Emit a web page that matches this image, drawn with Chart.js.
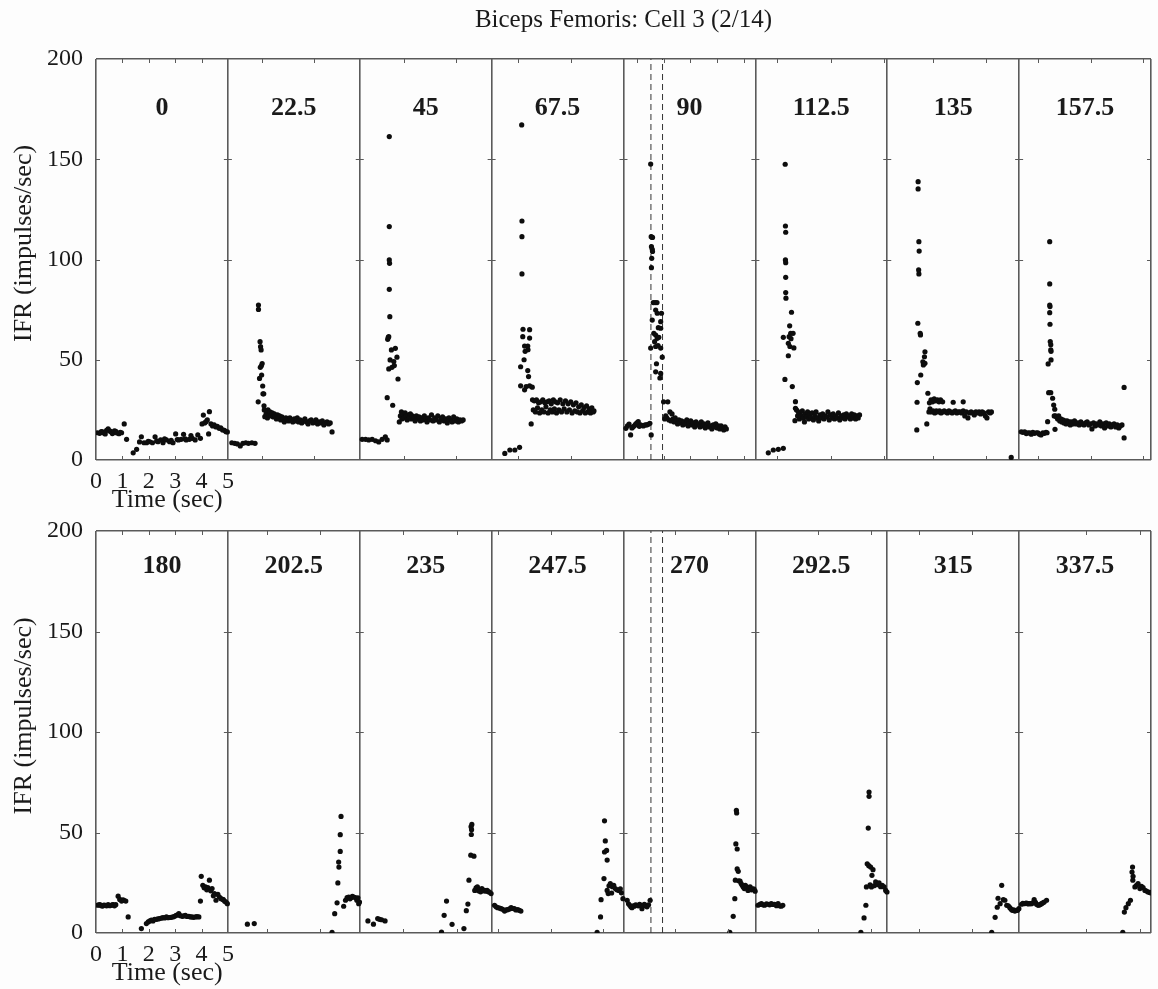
<!DOCTYPE html>
<html>
<head>
<meta charset="utf-8">
<title>Biceps Femoris: Cell 3 (2/14)</title>
<script src="https://cdn.jsdelivr.net/npm/chart.js@4.4.1/dist/chart.umd.min.js"></script>
<style>
  body { margin: 0; background: #fdfdfd; width: 1158px; height: 989px; overflow: hidden; }
  .row { position: absolute; left: 0; width: 1158px; }
</style>
</head>
<body>
<div class="row" style="top:0;height:525px"><canvas id="rowTop"></canvas></div>
<div class="row" style="top:470px;height:519px"><canvas id="rowBottom"></canvas></div>
<script>
// Direction labels for each panel (degrees)
const topAngles = ['0', '22.5', '45', '67.5', '90', '112.5', '135', '157.5'];
const bottomAngles = ['180', '202.5', '235', '247.5', '270', '292.5', '315', '337.5'];

// Axis ticks
const timeTicks = [0, 1, 2, 3, 4, 5];
const rateTicks = [0, 50, 100, 150, 200];

// Stimulus window in the 90 / 270 panels (sec)
const cueTimes = [1.04, 1.48];

// Instantaneous firing rate per panel: [time (sec), IFR (impulses/sec)]
const dir0 = [[0.06,13.6],[0.14,13.3],[0.2,14.2],[0.25,14],[0.3,13.5],[0.35,13],[0.4,14.8],[0.46,15.5],[0.52,14.5],[0.57,14.1],[0.62,13.2],[0.65,13.6],[0.7,14.5],[0.75,14.3],[0.8,13.5],[0.87,13.1],[0.92,13.8],[0.97,13.6],[1.07,18],[1.16,10.3],[1.41,3.6],[1.54,5.3],[1.65,9],[1.72,11.6],[1.82,8.6],[1.92,8.6],[1.98,9.3],[2.04,9.1],[2.14,8.6],[2.24,11.6],[2.3,9.5],[2.35,9.1],[2.45,10],[2.54,8.6],[2.6,10.5],[2.67,10],[2.79,9.1],[2.85,9.8],[2.92,8.6],[3.02,13],[3.08,10.2],[3.13,10],[3.23,10.3],[3.32,12.8],[3.38,10.5],[3.42,10],[3.54,10.3],[3.6,12.2],[3.65,10.8],[3.76,10],[3.86,12.5],[3.96,10.8],[4.02,18],[4.07,22.4],[4.12,18.5],[4.17,19.1],[4.22,20],[4.27,13],[4.3,24.1],[4.36,18],[4.42,17],[4.48,17.5],[4.55,16.5],[4.6,16.8],[4.67,15.8],[4.73,16],[4.8,15],[4.87,14.8],[4.93,14.1],[4.98,14]];
const dir22 = [[0.15,8.6],[0.26,8.3],[0.36,8],[0.47,7],[0.57,8.3],[0.68,8.6],[0.78,8.3],[0.91,8.6],[1.03,8.3],[1.15,29],[1.16,77.3],[1.16,75.1],[1.2,40.7],[1.22,59],[1.23,46.2],[1.24,56.5],[1.26,54.9],[1.27,47],[1.28,42.4],[1.3,48.1],[1.32,36.9],[1.33,33],[1.36,33],[1.37,27],[1.38,25],[1.4,21.6],[1.45,23],[1.5,21],[1.52,25],[1.57,22.5],[1.6,24],[1.63,22],[1.68,23.5],[1.72,21.5],[1.76,23],[1.8,22],[1.84,20.5],[1.88,22.5],[1.92,21],[1.96,22],[2,20],[2.05,21.5],[2.1,20.5],[2.14,19],[2.2,21],[2.25,20],[2.3,19.5],[2.35,21],[2.4,20],[2.46,19],[2.52,20.5],[2.58,19.5],[2.63,21],[2.68,19],[2.74,20],[2.8,18.5],[2.86,19.5],[2.92,20.5],[2.98,19],[3.04,18],[3.1,19.5],[3.16,20],[3.22,18.5],[3.28,19],[3.34,20],[3.4,18],[3.46,19],[3.52,18.5],[3.58,19.5],[3.64,17.5],[3.7,18.5],[3.76,19],[3.82,18],[3.88,18.5],[3.95,14]];
const dir45 = [[0.09,10.3],[0.22,10.3],[0.34,10],[0.47,10.3],[0.6,9.6],[0.72,9],[0.85,10.3],[0.97,11.6],[1.04,10],[1.04,31.1],[1.06,60.2],[1.08,61.2],[1.1,61.5],[1.12,161.3],[1.12,116.4],[1.12,99.8],[1.13,98.1],[1.12,85.1],[1.14,71.5],[1.15,49.9],[1.1,45.4],[1.2,54.9],[1.22,46.2],[1.25,27.3],[1.29,49.1],[1.31,47.1],[1.35,55.7],[1.41,51.3],[1.45,40.4],[1.5,19],[1.54,22],[1.58,24],[1.6,20.5],[1.64,23],[1.68,21],[1.72,23.5],[1.76,22],[1.8,20],[1.84,22.5],[1.88,21],[1.92,23],[1.96,20.5],[2,22],[2.05,21],[2.1,19.5],[2.15,22],[2.2,20.5],[2.25,21.5],[2.3,19.5],[2.35,21],[2.4,20],[2.45,22],[2.5,20.5],[2.55,19],[2.6,21],[2.66,20],[2.72,22.5],[2.78,19.5],[2.84,21],[2.9,20],[2.96,22],[3.02,19],[3.08,20.5],[3.14,21.5],[3.2,19.5],[3.26,20.5],[3.32,18.5],[3.38,21],[3.44,20],[3.5,19],[3.56,21.5],[3.62,19.5],[3.68,20.5],[3.74,19],[3.8,20],[3.86,19.5],[3.92,20]];
const dir67 = [[0.5,3.3],[0.69,5],[0.88,5],[1.06,6.3],[1.1,46.5],[1.1,37],[1.14,167.1],[1.15,119.2],[1.15,111.4],[1.15,92.8],[1.18,61.5],[1.19,65.2],[1.23,50],[1.25,56.8],[1.27,54.2],[1.31,36.6],[1.25,35],[1.37,56.8],[1.37,44.6],[1.38,55],[1.4,41.6],[1.44,65],[1.44,60.8],[1.44,37],[1.5,18],[1.54,36.3],[1.55,30],[1.58,25],[1.62,29.5],[1.66,24],[1.7,30],[1.74,26],[1.78,28.5],[1.82,23.5],[1.86,29],[1.9,25],[1.94,30],[1.98,24],[2.02,28.5],[2.06,26.5],[2.1,29],[2.14,23.5],[2.18,29.5],[2.22,25],[2.26,28],[2.3,24],[2.34,30],[2.38,25.5],[2.42,29],[2.46,23.5],[2.5,28.5],[2.55,25],[2.6,30],[2.65,24],[2.7,28],[2.75,25.5],[2.8,29.5],[2.85,24],[2.9,28],[2.95,25],[3,29],[3.05,23.5],[3.1,27.5],[3.15,24.5],[3.2,28.5],[3.25,24],[3.3,26.5],[3.35,23.5],[3.4,27.5],[3.45,24.5],[3.5,26],[3.55,23.5],[3.6,27],[3.65,24],[3.7,25.5],[3.75,23.5],[3.8,26],[3.85,24],[3.88,24.5]];
const dir90 = [[0.09,15.8],[0.15,17],[0.21,17.9],[0.27,12.5],[0.32,16],[0.37,16.6],[0.42,17.2],[0.46,17.9],[0.51,18.5],[0.56,19.1],[0.6,16.8],[0.65,17.5],[0.7,17.2],[0.75,17],[0.82,17.5],[0.88,17.5],[0.94,17.8],[1,18.3],[1.05,12.5],[1.03,147.6],[1.05,111.4],[1.1,111],[1.06,106.4],[1.09,105.1],[1.07,100.6],[1.06,95.9],[1.1,104],[1.13,78.5],[1.2,78.5],[1.27,78.5],[1.22,74.8],[1.28,73.2],[1.44,73.2],[1.09,69.8],[1.41,69],[1.41,65.7],[1.15,63.2],[1.22,62.3],[1.28,60.7],[1.34,61.2],[1.03,55.8],[1.22,56.6],[1.31,57],[1.41,55.8],[1.25,48],[1.22,44],[1.41,43.2],[1.47,51.3],[1.38,40.9],[1.18,59],[1.32,66],[1.52,29],[1.56,20.5],[1.6,22],[1.64,21],[1.68,29],[1.72,20],[1.76,24],[1.8,19.5],[1.84,23],[1.88,20.5],[1.92,19],[1.96,21],[2,19.5],[2.05,18],[2.1,20],[2.15,18.5],[2.2,19.5],[2.25,17.5],[2.3,19],[2.35,18],[2.4,20],[2.45,17],[2.5,18.5],[2.55,19.5],[2.6,17.5],[2.65,18.5],[2.7,16.5],[2.75,19],[2.8,17.5],[2.85,18],[2.9,16.5],[2.95,19],[3,17],[3.05,18],[3.1,16],[3.15,17.5],[3.2,18.5],[3.25,16.5],[3.3,17],[3.35,15.5],[3.4,17.5],[3.45,16.5],[3.5,18],[3.55,16],[3.6,17],[3.65,15.5],[3.7,17],[3.75,16],[3.8,15],[3.85,16.5],[3.9,15.5]];
const dir112 = [[0.49,3.6],[0.68,5],[0.87,5.3],[1.06,5.8],[1.06,61.2],[1.13,147.5],[1.14,116.7],[1.15,113.6],[1.14,99.8],[1.15,98.4],[1.15,91.1],[1.15,83.5],[1.16,80.7],[1.37,73.7],[1.3,66.9],[1.34,63.2],[1.43,63.2],[1.25,58.2],[1.31,56.6],[1.46,55.9],[1.25,52],[1.12,40.2],[1.4,36.6],[1.52,29.1],[1.35,60.5],[1.28,61.5],[1.5,19.6],[1.52,25.8],[1.56,25],[1.6,22],[1.63,24],[1.67,20.5],[1.7,23],[1.74,22],[1.78,24.5],[1.82,21],[1.86,19],[1.9,23],[1.94,21.5],[1.98,24],[2.02,20.5],[2.06,22.5],[2.1,21],[2.15,23.5],[2.2,20],[2.25,22],[2.3,24],[2.35,21],[2.4,19.5],[2.45,22.5],[2.5,21],[2.55,23],[2.6,20.5],[2.65,22],[2.7,21.5],[2.75,24],[2.8,20],[2.85,22.5],[2.9,21],[2.95,23],[3,20.5],[3.05,22],[3.1,21],[3.15,23.5],[3.2,20],[3.25,22],[3.3,21],[3.35,22.5],[3.4,20.5],[3.45,23],[3.5,21.5],[3.55,22],[3.6,20.5],[3.65,23],[3.7,21],[3.75,22.5],[3.8,20.5],[3.85,22],[3.9,21],[3.95,22.5]];
const dir135 = [[1.12,15],[1.13,28.8],[1.14,38.6],[1.16,68.2],[1.17,138.8],[1.17,135.2],[1.2,108.9],[1.21,104.2],[1.19,94.8],[1.2,92.8],[1.25,63.2],[1.26,62.4],[1.27,42.4],[1.35,49],[1.37,47.4],[1.41,51.5],[1.43,54],[1.43,48.2],[1.5,18],[1.54,33.3],[1.6,28.5],[1.66,30],[1.72,29],[1.78,30.5],[1.84,29.5],[1.9,30],[1.96,29],[2.02,30],[2.1,29],[2.5,28.8],[2.88,29],[1.58,24],[1.62,25.5],[1.68,24],[1.74,24.5],[1.8,23.5],[1.86,24.5],[1.92,24],[1.98,24.5],[2.04,23.5],[2.1,24],[2.16,24.5],[2.22,24],[2.28,23.5],[2.34,24.5],[2.4,24],[2.46,23.5],[2.52,24],[2.58,24.5],[2.64,23.5],[2.7,24],[2.76,24],[2.82,23.5],[2.88,24.5],[2.94,22],[3,24],[3.06,21],[3.12,23.5],[3.18,24],[3.24,23.5],[3.3,22.5],[3.36,24],[3.42,23.5],[3.48,24],[3.54,23],[3.6,24],[3.66,23.5],[3.72,22],[3.78,21],[3.84,24],[3.9,23.5],[3.95,24],[4.7,1.3]];
const dir157 = [[0.08,14.1],[0.14,13.8],[0.21,14.1],[0.27,13.2],[0.33,13.6],[0.4,13.5],[0.46,12.9],[0.52,13.8],[0.58,13.3],[0.65,13.6],[0.71,13.6],[0.77,12.9],[0.83,12.5],[0.9,13.5],[0.96,13.3],[1.02,13.8],[1.06,13.6],[1.08,19.1],[1.1,47.9],[1.12,33.6],[1.16,108.9],[1.16,87.8],[1.16,77.3],[1.17,76.5],[1.16,73.5],[1.17,67.7],[1.18,59.1],[1.2,57.5],[1.2,55],[1.21,54.2],[1.21,49.9],[1.2,33.6],[1.27,30.8],[1.31,27.4],[1.35,25.3],[1.33,22],[1.36,15.3],[1.38,22],[1.42,21.5],[1.46,20.5],[1.5,22],[1.54,19.5],[1.58,20.5],[1.62,19],[1.66,20],[1.7,18.5],[1.74,19.5],[1.78,18],[1.82,19.5],[1.86,18.5],[1.9,19],[1.94,17.5],[1.98,19],[2.04,18],[2.1,19.5],[2.16,18],[2.22,18.5],[2.28,17.5],[2.34,19],[2.4,18],[2.46,17.5],[2.52,18.5],[2.58,19],[2.64,17.5],[2.7,18],[2.76,15.5],[2.82,18.5],[2.88,17],[2.94,18],[3,17.5],[3.06,19],[3.12,17],[3.18,18],[3.24,16],[3.3,18.5],[3.36,17],[3.42,18],[3.48,16.5],[3.54,17.5],[3.6,18],[3.66,16.5],[3.72,17.5],[3.78,16],[3.84,17],[3.9,17.5],[3.98,36.2],[3.98,11]];

const dir180 = [[0.06,13.8],[0.1,14],[0.15,14.1],[0.2,13.6],[0.25,13.4],[0.3,13.9],[0.35,13.8],[0.4,13.5],[0.46,14.1],[0.52,13.6],[0.57,13.8],[0.62,14],[0.65,14.1],[0.7,13.5],[0.75,14.1],[0.84,18.3],[0.9,16.7],[0.97,15.9],[1.02,16.5],[1.06,16.2],[1.13,15.9],[1.22,8],[1.72,2.2],[1.91,4.7],[1.98,5.5],[2.04,6],[2.1,6.4],[2.16,6],[2.22,6.8],[2.29,6.8],[2.35,7],[2.41,7.2],[2.48,7.4],[2.54,7.7],[2.6,7.5],[2.67,8],[2.73,7.6],[2.79,7.7],[2.85,7.8],[2.92,8],[2.98,8.3],[3.04,8.8],[3.1,9],[3.14,9.6],[3.2,8.6],[3.27,8.3],[3.33,8.5],[3.39,8.8],[3.45,8.2],[3.52,8.3],[3.58,8],[3.64,8],[3.7,7.8],[3.77,8],[3.83,8.1],[3.9,8],[3.96,15.9],[3.99,28.2],[4.05,23.7],[4.1,22.5],[4.15,22.9],[4.2,21.5],[4.24,22.6],[4.3,26.3],[4.35,21],[4.4,22.1],[4.45,18.5],[4.49,19.6],[4.55,16.3],[4.62,19.2],[4.68,17.9],[4.74,17.1],[4.8,16.8],[4.83,16.6],[4.88,15.8],[4.93,15.4],[4.98,14.6]];
const dir202 = [[0.74,4.4],[1,4.7],[3.95,0.3],[4.05,9.6],[4.14,15],[4.17,24.9],[4.2,35.3],[4.21,32.8],[4.26,40.6],[4.26,48.9],[4.29,58],[4.39,13.3],[4.46,16.3],[4.52,17.6],[4.58,17.9],[4.63,17],[4.68,17.6],[4.72,18.2],[4.77,17.9],[4.83,17.6],[4.89,16.3],[4.93,17.5],[4.96,14.6],[4.99,15.4]];
const dir235 = [[0.31,6],[0.52,4.4],[0.68,7.2],[0.75,6.8],[0.83,6.6],[0.96,6],[3.1,0.5],[3.2,8.8],[3.29,15.9],[3.5,4.3],[3.95,2.2],[4.04,11.1],[4.1,14.4],[4.14,26.3],[4.21,38.7],[4.33,38.2],[4.23,49],[4.24,51.4],[4.22,52.9],[4.25,54],[4.36,21.2],[4.41,22.5],[4.46,22.9],[4.5,21],[4.54,21.6],[4.58,20.5],[4.63,22.1],[4.68,21],[4.73,21.2],[4.78,20.8],[4.83,21.2],[4.88,20.5],[4.92,20.4],[4.98,19.6]];
const dir247 = [[0.11,13.8],[0.17,13],[0.23,12.6],[0.3,12.4],[0.36,12.1],[0.42,11.8],[0.49,10.9],[0.55,11.5],[0.61,11.6],[0.68,12],[0.74,12.6],[0.8,12.2],[0.86,12.1],[0.92,11.5],[0.99,11.6],[1.05,11.3],[1.11,10.9],[4,0.3],[4.13,8],[4.15,16.6],[4.26,27.1],[4.28,40.3],[4.36,41.1],[4.38,36.3],[4.31,45.8],[4.28,55.8],[4.38,21.2],[4.42,19.6],[4.45,23.5],[4.5,24.6],[4.55,19.9],[4.58,23],[4.63,23.7],[4.69,22.1],[4.75,21.5],[4.82,21.2],[4.88,22],[4.92,20],[4.98,17.1]];
const dir270 = [[0.14,16.3],[0.19,14.5],[0.24,13.8],[0.28,13],[0.32,12.6],[0.37,13.5],[0.41,13.3],[0.46,14],[0.51,13.8],[0.56,13.5],[0.61,14.3],[0.66,13.8],[0.7,12.1],[0.75,13.5],[0.79,14.3],[0.84,13.8],[0.89,13],[0.95,14],[1.01,16.3],[4.03,0.3],[4.16,8.3],[4.22,17.1],[4.24,26.3],[4.28,61],[4.29,59.7],[4.26,44.3],[4.31,41.8],[4.31,31.9],[4.35,30.7],[4.37,26],[4.42,25.8],[4.46,24.6],[4.5,23.7],[4.54,22.9],[4.58,22.1],[4.62,23.7],[4.67,22.9],[4.72,21.2],[4.76,22.5],[4.8,23],[4.85,21.5],[4.9,22],[4.95,21.8],[4.99,20.8]];
const dir292 = [[0.1,13.8],[0.17,14.2],[0.23,14.6],[0.29,14],[0.35,13.8],[0.42,14.5],[0.48,14.3],[0.54,14],[0.6,14.6],[0.66,14.2],[0.73,14.3],[0.8,13.6],[0.86,14.6],[0.92,13.5],[0.98,13.3],[1.04,13.8],[4,0.3],[4.12,7.5],[4.19,13.8],[4.21,22.9],[4.31,70.1],[4.31,68],[4.28,52.2],[4.24,34.4],[4.3,33.5],[4.37,32.8],[4.46,31.5],[4.42,28.7],[4.35,24],[4.4,22.9],[4.5,23.5],[4.56,25.4],[4.63,24],[4.69,24.9],[4.75,23],[4.81,23.7],[4.88,22.9],[4.94,21.2],[4.99,20.4]];
const dir315 = [[3.96,0.3],[4.09,7.8],[4.17,12.8],[4.2,17.3],[4.28,14.6],[4.34,23.7],[4.4,16.6],[4.46,16.3],[4.53,13.8],[4.59,13.5],[4.65,12.6],[4.7,11.8],[4.74,11.3],[4.79,11.5],[4.84,10.9],[4.89,11.3],[4.94,11.3],[4.99,12.1]];
const dir337 = [[0.09,14.3],[0.14,14.8],[0.19,14.6],[0.24,14.8],[0.28,14.9],[0.33,14.5],[0.37,14.6],[0.42,14.6],[0.47,14.6],[0.52,15],[0.57,16.6],[0.62,15.2],[0.66,14.3],[0.71,13.9],[0.75,13.8],[0.8,14.2],[0.85,14.6],[0.9,15],[0.95,15.4],[1.04,16.3],[3.93,0.3],[3.99,10.4],[4.05,12.6],[4.14,14.6],[4.22,16.3],[4.3,32.8],[4.28,30.3],[4.32,28.2],[4.31,26.3],[4.39,22.9],[4.45,23.7],[4.51,24.6],[4.58,22.1],[4.64,23.2],[4.7,22.6],[4.77,21.2],[4.83,20.9],[4.89,20.4],[4.95,20.2],[5,19.9]];

const topPanels = [dir0, dir22, dir45, dir67, dir90, dir112, dir135, dir157];
const bottomPanels = [dir180, dir202, dir235, dir247, dir270, dir292, dir315, dir337];

// Each panel's own time ticks (drawn as short inward marks)
const topPanelTicks = [[1, 2, 3, 4], [1.28, 3.27], [1.66, 3.65], [1.0, 3.01], [0.52, 1.52, 2.53, 3.54, 4.55], [0.83, 2.86, 4.86], [1.74, 3.74], [0.72, 2.71, 4.7]];
const bottomPanelTicks = [[1, 2, 3, 4], [1.5, 3.51], [1.65, 3.67], [0.23, 2.24, 4.23], [1.96, 3.97], [2.36, 4.4], [1.2, 3.2], [2.55, 4.59]];

const PANEL = 5;        // seconds per panel
const NPANEL = 8;
const ink = '#1a1a1a';
const frame = '#5a5a5a';
const serif = '"Liberation Serif", "Times New Roman", serif';

// Short inward ticks, panel headings and axis titles
const panelDecor = {
    id: 'panelDecor',
    afterDatasetsDraw(chart, args, opts) {
        const { ctx, chartArea: a } = chart;
        const x = chart.scales.x, y = chart.scales.y;
        ctx.save();
        ctx.strokeStyle = frame;
        ctx.lineWidth = 1;

        opts.ticks.forEach((list, i) => {
            list.forEach(t => {
                const px = Math.round(x.getPixelForValue(i * PANEL + t)) + 0.5;
                ctx.beginPath();
                ctx.moveTo(px, a.top);
                ctx.lineTo(px, a.top + 4);
                ctx.moveTo(px, a.bottom);
                ctx.lineTo(px, a.bottom - 4);
                ctx.stroke();
            });
        });

        for (let k = 0; k <= NPANEL; k++) {
            const px = x.getPixelForValue(k * PANEL);
            rateTicks.slice(1, -1).forEach(v => {
                const py = Math.round(y.getPixelForValue(v)) + 0.5;
                ctx.beginPath();
                ctx.moveTo(k === 0 ? px : px - 4, py);
                ctx.lineTo(k === NPANEL ? px : px + 4, py);
                ctx.stroke();
            });
        }

        ctx.fillStyle = ink;
        ctx.textAlign = 'center';
        ctx.textBaseline = 'middle';
        ctx.font = 'bold 26px ' + serif;
        opts.labels.forEach((s, i) => {
            ctx.fillText(s, x.getPixelForValue(i * PANEL + PANEL / 2), y.getPixelForValue(opts.labelAt));
        });

        ctx.font = '26px ' + serif;
        ctx.textBaseline = 'alphabetic';
        ctx.fillText('Time (sec)', x.getPixelForValue(2.7), a.bottom + 47);

        ctx.translate(31, y.getPixelForValue(108));
        ctx.rotate(-Math.PI / 2);
        ctx.fillText('IFR (impulses/sec)', 0, 0);
        ctx.restore();
    }
};

function makeRow(canvasId, panels, angles, panelTicks, extra) {
    const datasets = panels.map((series, i) => ({
        type: 'scatter',
        data: series.map(([t, v]) => ({ x: i * PANEL + t, y: v })),
        pointRadius: 2.6,
        pointBackgroundColor: '#0d0d0d',
        pointBorderWidth: 0
    }));

    // dashed stimulus markers in the fifth panel
    cueTimes.forEach(t => {
        datasets.push({
            type: 'line',
            data: [{ x: 4 * PANEL + t, y: 0 }, { x: 4 * PANEL + t, y: 200 }],
            borderColor: '#333',
            borderWidth: 1,
            borderDash: [6, 4],
            pointRadius: 0
        });
    });

    return new Chart(document.getElementById(canvasId), {
        type: 'scatter',
        data: { datasets },
        options: {
            responsive: true,
            maintainAspectRatio: false,
            animation: false,
            layout: { padding: { top: extra.padTop, right: 1, left: 0, bottom: 0 } },
            plugins: {
                legend: { display: false },
                tooltip: { enabled: false },
                title: extra.title,
                panelDecor: { ticks: panelTicks, labels: angles, labelAt: extra.labelAt }
            },
            scales: {
                x: {
                    type: 'linear',
                    min: 0,
                    max: NPANEL * PANEL,
                    afterBuildTicks: s => {
                        const vals = timeTicks.slice();
                        for (let k = 2; k <= NPANEL; k++) vals.push(k * PANEL);
                        s.ticks = vals.map(v => ({ value: v }));
                    },
                    afterFit: s => { s.height = extra.axisHeight; },
                    ticks: {
                        autoSkip: false,
                        maxRotation: 0,
                        padding: 7,
                        color: ink,
                        font: { family: serif, size: 24 },
                        callback: v => (v <= PANEL ? String(v) : '')
                    },
                    grid: {
                        drawTicks: false,
                        lineWidth: 1.6,
                        color: c => (c.tick && c.tick.value % PANEL === 0 ? frame : 'rgba(0,0,0,0)')
                    },
                    border: { display: false }
                },
                y: {
                    min: 0,
                    max: 200,
                    afterBuildTicks: s => { s.ticks = rateTicks.map(v => ({ value: v })); },
                    afterFit: s => { s.width = 96; },
                    ticks: {
                        padding: 13,
                        color: ink,
                        font: { family: serif, size: 24 }
                    },
                    grid: {
                        drawTicks: false,
                        lineWidth: 1.6,
                        color: c => (c.tick && (c.tick.value === 0 || c.tick.value === 200) ? frame : 'rgba(0,0,0,0)')
                    },
                    border: { display: false }
                }
            }
        },
        plugins: [panelDecor]
    });
}

makeRow('rowTop', topPanels, topAngles, topPanelTicks, {
    padTop: 0,
    axisHeight: 65,
    labelAt: 175.3,
    title: {
        display: true,
        text: 'Biceps Femoris: Cell 3 (2/14)',
        color: ink,
        fullSize: false,
        font: { family: serif, size: 25, weight: 'normal' },
        padding: { top: 5, bottom: 24 }
    }
});

makeRow('rowBottom', bottomPanels, bottomAngles, bottomPanelTicks, {
    padTop: 61,
    axisHeight: 56,
    labelAt: 182.3,
    title: { display: false }
});
</script>
</body>
</html>
